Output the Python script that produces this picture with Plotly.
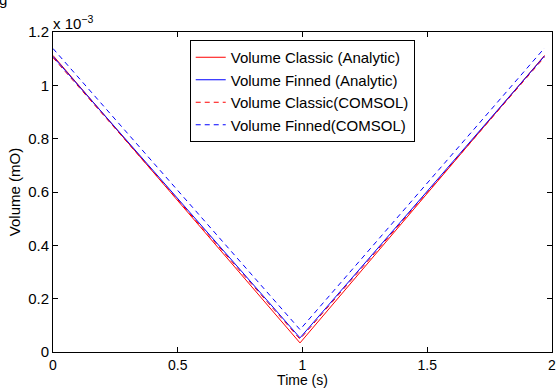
import plotly.graph_objects as go

# Time (s)
time = [0.0, 0.99, 1.97]
# Volume values in units of 1e-3
classic_analytic = [1.112, 0.034, 1.112]
finned_analytic = [1.108, 0.053, 1.110]
classic_comsol = [1.104, 0.048, 1.106]
finned_comsol = [1.138, 0.084, 1.140]

x_ticks = [0, 0.5, 1, 1.5, 2]
y_ticks = [0, 0.2, 0.4, 0.6, 0.8, 1, 1.2]

FONT = "Liberation Sans, Arial, Helvetica, sans-serif"

fig = go.Figure()
fig.add_trace(go.Scatter(x=time, y=classic_comsol, mode="lines", name="Volume Classic(COMSOL)",
                         line=dict(color="red", width=1, dash="5px,4px")))
fig.add_trace(go.Scatter(x=time, y=classic_analytic, mode="lines", name="Volume Classic (Analytic)",
                         line=dict(color="red", width=1)))
fig.add_trace(go.Scatter(x=time, y=finned_analytic, mode="lines", name="Volume Finned (Analytic)",
                         line=dict(color="blue", width=1)))
fig.add_trace(go.Scatter(x=time, y=finned_comsol, mode="lines", name="Volume Finned(COMSOL)",
                         line=dict(color="blue", width=1, dash="5px,4px")))

fig.update_layout(
    width=557, height=388,
    margin=dict(l=53, r=1, t=32, b=36),
    paper_bgcolor="white", plot_bgcolor="white",
    font=dict(family=FONT, size=15, color="black"),
    showlegend=True,
    legend=dict(x=0.274, y=0.975, xanchor="left", yanchor="top",
                bordercolor="black", borderwidth=1, bgcolor="white",
                font=dict(size=15), traceorder="normal",
                tracegroupgap=0, itemwidth=30),
    xaxis=dict(range=[0, 2], tickvals=x_ticks, ticktext=["0", "0.5", "1", "1.5", "2"],
               showgrid=False, zeroline=False, showline=True, linecolor="black", linewidth=1,
               mirror="ticks", ticks="inside", ticklen=5, tickcolor="black",
               ticklabeloverflow="allow", tickfont=dict(size=14),
               title=dict(text="Time (s)", font=dict(size=14), standoff=0)),
    yaxis=dict(range=[0, 1.2], tickvals=y_ticks, ticktext=["0", "0.2", "0.4", "0.6", "0.8", "1", "1.2"],
               showgrid=False, zeroline=False, showline=True, linecolor="black", linewidth=1,
               mirror="ticks", ticks="inside", ticklen=5, tickcolor="black",
               title=dict(text="Volume (mO)", font=dict(size=15), standoff=3)),
)

# legend ordering to match reference
order = ["Volume Classic (Analytic)", "Volume Finned (Analytic)", "Volume Classic(COMSOL)", "Volume Finned(COMSOL)"]
for t in fig.data:
    t.legendrank = order.index(t.name) + 1

fig.add_annotation(xref="paper", yref="paper", x=0, y=1, xanchor="left", yanchor="bottom",
                   text="x 10<sup>−3</sup>", showarrow=False, font=dict(size=15), xshift=-2, yshift=-2)
fig.add_annotation(xref="paper", yref="paper", x=0, y=1, xanchor="left", yanchor="bottom",
                   text="g", showarrow=False, font=dict(size=15), xshift=-56, yshift=22)

fig.write_html("out.html")
